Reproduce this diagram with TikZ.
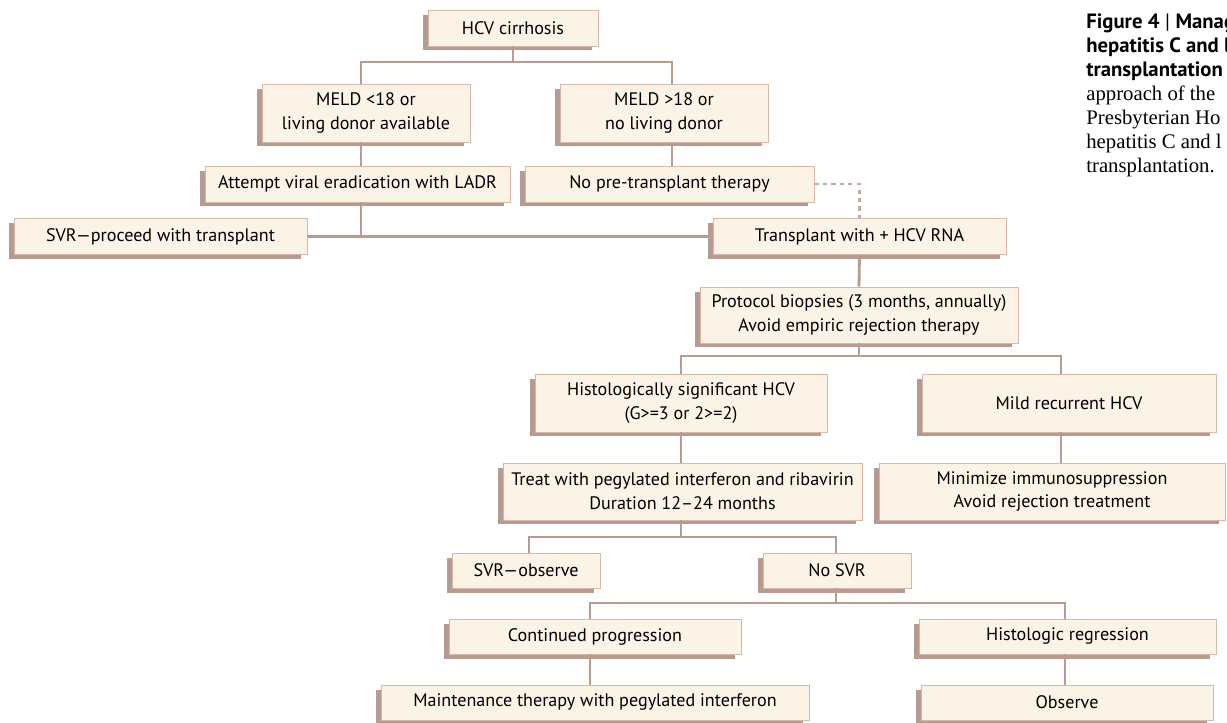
\documentclass[tikz,border=0pt]{standalone}
\usepackage{fontspec}
\setmainfont{PT Sans}
\newfontfamily\capserif{Liberation Serif}
\usetikzlibrary{shadows, calc}

\definecolor{boxfill}{HTML}{FAF3E6}
\definecolor{boxline}{HTML}{D4B8AA}
\definecolor{shadowcol}{HTML}{B89B90}
\definecolor{linkcol}{HTML}{B99C91}

\begin{document}
\begin{tikzpicture}[
		x=0.02cm, y=-0.02cm,
		font=\fontsize{10.3}{13.6}\selectfont,
		% Styles
		stepbox/.style={draw=boxline, line width=0.5pt, fill=boxfill, align=center, inner sep=2pt,
			minimum height=0.72cm,
			drop shadow={shadow xshift=-0.11cm, shadow yshift=-0.09cm, fill=shadowcol, opacity=1}},
		link/.style={draw=linkcol, line width=1.6pt},
		dashlink/.style={draw=linkcol!85, line width=1.6pt, dash pattern=on 2.4pt off 2.4pt}
		]
		
		\useasboundingbox (0,0) rectangle (1227,723);
		\clip (0,0) rectangle (1227,723);
		
		% =========================================================
		% 1. Before transplant
		% =========================================================
		\node[stepbox, minimum width=3.40cm] (hcv) at (513,28) {HCV cirrhosis};
		\node[stepbox, minimum width=4.16cm, minimum height=1.16cm] (meldlo) at (366,113) {MELD <18 or\\living donor available};
		\node[stepbox, minimum width=4.16cm, minimum height=1.16cm] (meldhi) at (664,113) {MELD >18 or\\no living donor};
		\node[stepbox, minimum width=6.10cm] (attempt) at (357.5,184) {Attempt viral eradication with LADR};
		\node[stepbox, minimum width=5.78cm] (nopre) at (669.5,184) {No pre-transplant therapy};
		\node[stepbox, minimum width=5.86cm] (svrtx) at (160.5,236.5) {SVR---proceed with transplant};
		\node[stepbox, minimum width=5.86cm] (tx) at (859.5,236.5) {Transplant with + HCV RNA};
		
		% branch points
		\coordinate (cL) at (361,62);
		\coordinate (cR) at (672,62);
		
		\draw[link] (hcv.south) -- (hcv.south |- cL);
		\draw[link] (meldlo.north -| cL) -- (cL) -- (cR) -- (meldhi.north -| cR);
		\draw[link] (meldlo.south -| cL) -- (attempt.north -| cL);
		\draw[link] (meldhi.south -| cR) -- (nopre.north -| cR);
		\draw[link] (attempt.south -| cL) -- (svrtx.east -| cL);
		\draw[link] (svrtx.east) -- (tx.west);
		\draw[dashlink] (nopre.east) -| (tx.north);
		
		% =========================================================
		% 2. After transplant
		% =========================================================
		\node[stepbox, minimum width=6.36cm, minimum height=1.12cm] (protocol) at (859,315) {Protocol biopsies (3 months, annually)\\Avoid empiric rejection therapy};
		\node[stepbox, minimum width=5.84cm, minimum height=1.16cm] (histo) at (681,403) {Histologically significant HCV\\(G>=3 or 2>=2)};
		\node[stepbox, minimum width=5.88cm, minimum height=1.16cm] (mild) at (1069,403) {Mild recurrent HCV};
		\node[stepbox, minimum width=7.18cm, minimum height=1.14cm] (treat) at (682.5,491.5) {Treat with pegylated interferon and ribavirin\\Duration 12--24 months};
		\node[stepbox, minimum width=6.92cm, minimum height=1.14cm] (minim) at (1052,491.5) {Minimize immunosuppression\\Avoid rejection treatment};
		
		\coordinate (bL) at (681,356);
		\coordinate (bR) at (1061,356);
		
		\draw[link] (tx.south) -- (protocol.north);
		\draw[link] (protocol.south) -- (protocol.south |- bL);
		\draw[link] (histo.north -| bL) -- (bL) -- (bR) -- (mild.north -| bR);
		\draw[link] (histo.south -| bL) -- (treat.north -| bL);
		\draw[link] (mild.south -| bR) -- (minim.north -| bR);
		
		% =========================================================
		% 3. Treatment outcome
		% =========================================================
		\node[stepbox, minimum width=2.96cm, minimum height=0.70cm] (svrobs) at (526,570.5) {SVR---observe};
		\node[stepbox, minimum width=2.96cm, minimum height=0.70cm] (nosvr) at (837,570.5) {No SVR};
		\node[stepbox, minimum width=5.84cm, minimum height=0.70cm] (cont) at (595,636.5) {Continued progression};
		\node[stepbox, minimum width=5.94cm, minimum height=0.70cm] (histreg) at (1067.5,636.5) {Histologic regression};
		\node[stepbox, minimum width=8.56cm, minimum height=0.70cm] (maint) at (595,702.5) {Maintenance therapy with pegylated interferon};
		\node[stepbox, minimum width=5.84cm, minimum height=0.70cm] (obs) at (1067,702.5) {Observe};
		
		\coordinate (dL) at (529,537);
		\coordinate (dR) at (836,537);
		\coordinate (eL) at (590,603);
		\coordinate (eR) at (1065,603);
		
		\draw[link] (treat.south -| bL) -- (bL |- dL);
		\draw[link] (svrobs.north -| dL) -- (dL) -- (dR) -- (nosvr.north -| dR);
		\draw[link] (nosvr.south -| dR) -- (dR |- eL);
		\draw[link] (cont.north -| eL) -- (eL) -- (eR) -- (histreg.north -| eR);
		\draw[link] (cont.south -| eL) -- (maint.north -| eL);
		\draw[link] (histreg.south -| eR) -- (obs.north -| eR);
		
		% =========================================================
		% 4. Caption (cut at the right edge)
		% =========================================================
		\node[anchor=north west, align=left, inner sep=0pt, font=\fontsize{11.8}{13.7}\selectfont] (caption) at (1086,13) {%
			\textbf{Figure 4} | \textbf{Manag}\\
			\textbf{hepatitis C and l}\\
			\textbf{transplantation}\\
			{\capserif approach of the}\\
			{\capserif Presbyterian Ho}\\
			{\capserif hepatitis C and l}\\
			{\capserif transplantation.}};
		
	\end{tikzpicture}
\end{document}
